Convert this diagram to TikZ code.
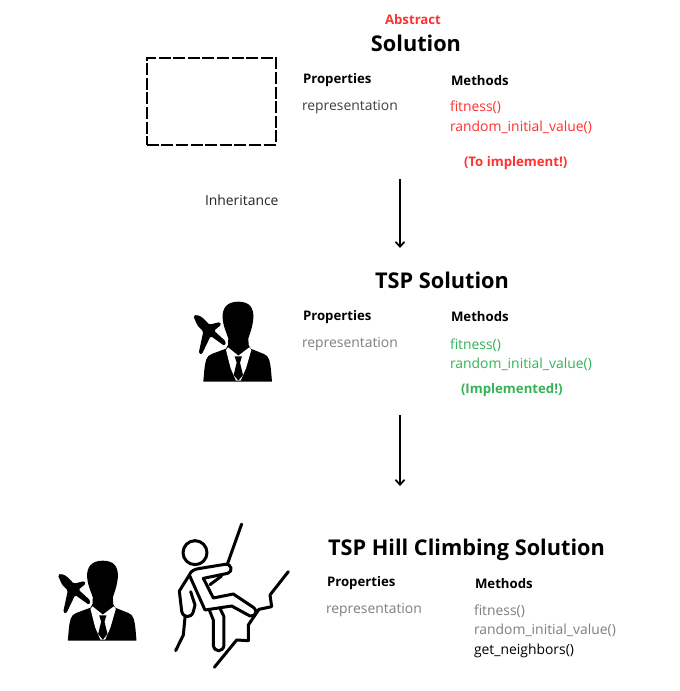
\documentclass[tikz,border=0pt]{standalone}
\usepackage{fontspec}
\setmainfont{Open Sans}
\usetikzlibrary{arrows.meta}
\definecolor{absred}{HTML}{FF3131}
\definecolor{okgreen}{HTML}{34B356}
\definecolor{inhgrey}{HTML}{7F7F7F}
\tikzset{
  x=1pt,y=-1pt,
  lbl/.style={anchor=mid west,inner sep=0pt,outer sep=0pt,yshift=-2.5pt,font=\fontsize{13.9}{16}\selectfont},
  head/.style={lbl,yshift=-0.6pt,font=\fontsize{13.2}{16}\selectfont\bfseries},
  big/.style={anchor=mid,inner sep=0pt,outer sep=0pt,yshift=-5pt,font=\fontsize{21.7}{25}\selectfont\bfseries},
  flow/.style={draw=black,line width=1.7pt,-{Straight Barb[length=5pt,width=9pt,line width=1.7pt]}},
  climb/.style={draw=black,line width=3pt,line cap=round,line join=round},
  man/.pic={
    \begin{scope}[x=0.3333pt,y=-0.3333pt]
      \fill[black,rounded corners=1.5pt] (70,78)--(80,74)--(97,82)--(118,104)--(150,96)--(154,104)--(132,122)--(168,155)--(164,168)--(122,138)--(95,194)--(86,190)--(100,124)--(82,106)--cycle;
      \fill[black] (205,35) .. controls (240,35) and (252,55) .. (250,85)
        .. controls (248,110) and (240,130) .. (235,145)
        -- (236,165) -- (242,176) -- (282,192)
        .. controls (298,198) and (300,215) .. (303,240) -- (306,275) -- (100,275) -- (103,240)
        .. controls (106,215) and (108,198) .. (125,192) -- (168,176) -- (174,165) -- (175,145)
        .. controls (170,130) and (160,110) .. (158,85)
        .. controls (156,55) and (170,35) .. (205,35) -- cycle;
      \fill[white] (168,180)--(174,172)--(205,197)--(238,172)--(244,180)--(228,235)--(212,272)--(198,272)--(182,235)--cycle;
      \fill[black] (194,199)--(216,199)--(210,218)--(219,255)--(205,272)--(191,255)--(200,218)--cycle;
    \end{scope}
  },
}
\begin{document}
\begin{tikzpicture}
\useasboundingbox (0,0) rectangle (680,691);
\fill[white] (0,0) rectangle (680,691);

% top
\node[lbl,text=absred,font=\fontsize{13.2}{16}\selectfont\bfseries] (abs) at (385,19) {Abstract};
\node[big] (sol) at (416,44) {Solution};
\node[draw=black,line width=1.6pt,dash pattern=on 12pt off 2.6pt,minimum width=129pt,minimum height=87pt,inner sep=0pt,anchor=north west] (box) at (146,57) {};
\node[head] (p1) at (303,78) {Properties};
\node[head] (m1) at (451,80) {Methods};
\node[lbl,text=black!75] (r1) at (302,105.500) {representation};
\node[lbl,text=absred] (f1) at (450,106) {fitness()};
\node[lbl,text=absred] (v1) at (450,126) {random\_initial\_value()};
\node[head,text=absred] (t1) at (464,161) {(To implement!)};
\node[lbl,text=black!85] (inh) at (205,200) {Inheritance};

\coordinate (a1s) at (400,179);
\coordinate (a1e) at (400,248);
\draw[flow] (a1s) -- (a1e);

% middle
\node[big] (sol2) at (442,281) {TSP Solution};
\pic at (170,290) {man};
\node[head] (p2) at (303,315) {Properties};
\node[head] (m2) at (451,316) {Methods};
\node[lbl,text=inhgrey] (r2) at (302,342) {representation};
\node[lbl,text=okgreen] (f2) at (450,344) {fitness()};
\node[lbl,text=okgreen] (v2) at (450,363) {random\_initial\_value()};
\node[head,text=okgreen] (t2) at (461,388) {(Implemented!)};

\coordinate (a2s) at (400,415);
\coordinate (a2e) at (400,486);
\draw[flow] (a2s) -- (a2e);

% bottom
\node[big] (sol3) at (466.500,548) {TSP Hill Climbing Solution};
\pic at (34.500,549) {man};
\begin{scope}[shift={(160,510)},x=0.3333pt,y=-0.3333pt]
  \draw[climb] (105,128) circle[radius=36];
  \draw[climb] (245,42) -- (203,160);
  \draw[climb] (135,300) -- (88,195) .. controls (92,182) and (105,178) .. (115,176) -- (195,163)
     .. controls (215,160) and (220,185) .. (203,190) -- (130,205) -- (160,264) -- (220,252) -- (280,292)
     .. controls (295,305) and (285,320) .. (270,318) -- (215,288) -- (135,300);
  \draw[climb] (185,198) -- (150,224);
  \draw[climb] (88,195) -- (58,243) -- (65,303) .. controls (68,325) and (95,325) .. (100,305) -- (105,285) -- (92,245);
  \draw[climb] (148,300) -- (160,330) -- (160,405) .. controls (162,428) and (190,428) .. (192,405) -- (192,320) -- (180,295);
  \draw[climb] (75,322) -- (70,375) -- (47,422);
  \draw[climb] (163,472) -- (230,390) -- (265,392) -- (265,345) -- (297,298) -- (335,290) -- (330,255) -- (385,185);
\end{scope}
\node[head] (p3) at (327,581) {Properties};
\node[head] (m3) at (475,583) {Methods};
\node[lbl,text=inhgrey] (r3) at (326,608) {representation};
\node[lbl,text=inhgrey] (f3) at (474,610) {fitness()};
\node[lbl,text=inhgrey] (v3) at (474,629) {random\_initial\_value()};
\node[lbl] (g3) at (474,649) {get\_neighbors()};
\end{tikzpicture}
\end{document}
